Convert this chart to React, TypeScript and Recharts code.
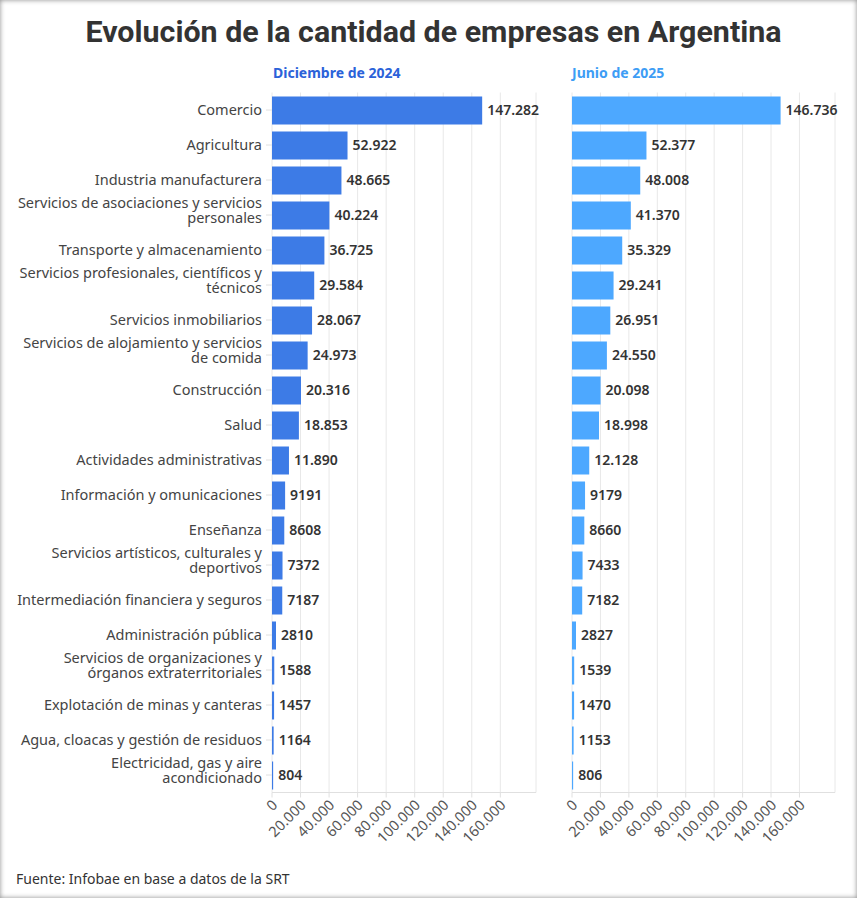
import React from "react";
import { BarChart, Bar, XAxis, YAxis, CartesianGrid, LabelList } from "recharts";

const categories = [
  "Comercio",
  "Agricultura",
  "Industria manufacturera",
  "Servicios de asociaciones y servicios personales",
  "Transporte y almacenamiento",
  "Servicios profesionales, científicos y técnicos",
  "Servicios inmobiliarios",
  "Servicios de alojamiento y servicios de comida",
  "Construcción",
  "Salud",
  "Actividades administrativas",
  "Información y omunicaciones",
  "Enseñanza",
  "Servicios artísticos, culturales y deportivos",
  "Intermediación financiera y seguros",
  "Administración pública",
  "Servicios de organizaciones y órganos extraterritoriales",
  "Explotación de minas y canteras",
  "Agua, cloacas y gestión de residuos",
  "Electricidad, gas y aire acondicionado",
];

const dic2024 = [147282, 52922, 48665, 40224, 36725, 29584, 28067, 24973, 20316, 18853, 11890, 9191, 8608, 7372, 7187, 2810, 1588, 1457, 1164, 804];
const jun2025 = [146736, 52377, 48008, 41370, 35329, 29241, 26951, 24550, 20098, 18998, 12128, 9179, 8660, 7433, 7182, 2827, 1539, 1470, 1153, 806];

const xTicks = [0, 20000, 40000, 60000, 80000, 100000, 120000, 140000, 160000];

const seriesTitles = ["Diciembre de 2024", "Junio de 2025"];

const data = categories.map((c, i) => ({ name: c, dic: dic2024[i], jun: jun2025[i] }));

const FONT = "'Noto Sans', sans-serif";
const CAT_FS = 14.5;
const WRAP_W = 249;
const LH = 14.5;

const groupDots = (v: number) => String(v).replace(/\B(?=(\d{3})+(?!\d))/g, ".");
const fmtValue = (v: any) => {
  const n = Number(v);
  return n >= 10000 ? groupDots(n) : String(n);
};
const fmtTick = (v: any) => groupDots(Number(v));

let ctx: CanvasRenderingContext2D | null = null;
const measure = (s: string) => {
  if (!ctx) {
    const c = document.createElement("canvas");
    ctx = c.getContext("2d");
  }
  if (!ctx) return s.length * 7;
  ctx.font = `${CAT_FS}px 'Noto Sans'`;
  return ctx.measureText(s).width;
};

const wrap = (s: string) => {
  const words = s.split(" ");
  const lines: string[] = [];
  let cur = "";
  for (const w of words) {
    const t = cur ? cur + " " + w : w;
    if (cur && measure(t) > WRAP_W) {
      lines.push(cur);
      cur = w;
    } else {
      cur = t;
    }
  }
  if (cur) lines.push(cur);
  return lines;
};

const CatTick = (props: any) => {
  const { x, y, payload } = props;
  const lines = wrap(String(payload.value));
  const n = lines.length;
  const shift = (n - 1) * (LH / 2 + 4.75);
  return (
    <text textAnchor="end" fontSize={CAT_FS} fill="#444" fontFamily={FONT}>
      {lines.map((l, i) => (
        <tspan key={i} x={x} y={y + i * LH - shift + 5}>
          {l}
        </tspan>
      ))}
    </text>
  );
};

const XTick = (props: any) => {
  const { x, y, payload } = props;
  return (
    <g transform={`translate(${x},${y})`}>
      <text
        x={0}
        y={0}
        dy={9}
        textAnchor="end"
        transform="rotate(-45)"
        fontSize={14.5}
        fill="#555"
        fontFamily={FONT}
      >
        {fmtTick(payload.value)}
      </text>
    </g>
  );
};

const DOMAIN: [number, number] = [0, 185000];
const PLOT_TOP = 92.5;
const PLOT_H = 700;
const XAXIS_H = 70;

export default function App() {
  const chartH = PLOT_TOP + PLOT_H + XAXIS_H;
  return (
    <div
      style={{
        position: "absolute",
        left: 0,
        top: 0,
        width: 857,
        height: 898,
        background: "#fff",
        boxShadow: "inset 0 0 5px rgba(0,0,0,0.45)",
        overflow: "hidden",
        fontFamily: FONT,
      }}
    >
      <div
        style={{
          position: "absolute",
          left: 5,
          top: 14,
          width: 857,
          textAlign: "center",
          fontFamily: "Roboto, sans-serif",
          fontWeight: 700,
          fontSize: 30.4,
          color: "#333",
        }}
      >
        Evolución de la cantidad de empresas en Argentina
      </div>
      <div
        style={{
          position: "absolute",
          left: 273,
          top: 63,
          fontWeight: 700,
          fontSize: 14,
          color: "#2b62d9",
        }}
      >
        {seriesTitles[0]}
      </div>
      <div
        style={{
          position: "absolute",
          left: 572,
          top: 63,
          fontWeight: 700,
          fontSize: 14,
          color: "#3d9df5",
        }}
      >
        {seriesTitles[1]}
      </div>

      <div style={{ position: "absolute", left: 0, top: 0 }}>
        <BarChart
          width={540}
          height={chartH}
          data={data}
          layout="vertical"
          margin={{ top: PLOT_TOP, right: 4, left: 0, bottom: 0 }}
          barCategoryGap="20%"
        >
          <CartesianGrid horizontal={false} stroke="#e8e8e8" />
          <XAxis
            type="number"
            domain={DOMAIN}
            ticks={xTicks}
            interval={0}
            height={XAXIS_H}
            tick={<XTick />}
            axisLine={{ stroke: "#e0e0e0" }}
            tickLine={{ stroke: "#e0e0e0" }}
            tickSize={5}
          />
          <YAxis
            type="category"
            dataKey="name"
            width={272}
            axisLine={false}
            tickLine={{ stroke: "#e0e0e0" }}
            tickSize={6}
            tickMargin={4}
            interval={0}
            tick={<CatTick />}
          />
          <Bar dataKey="dic" fill="#3d7be6" barSize={28} isAnimationActive={false}>
            <LabelList
              dataKey="dic"
              position="right"
              offset={5}
              formatter={fmtValue}
              style={{ fontSize: 14, fontWeight: 600, fill: "#333", fontFamily: FONT }}
            />
          </Bar>
        </BarChart>
      </div>

      <div style={{ position: "absolute", left: 552, top: 0 }}>
        <BarChart
          width={288}
          height={chartH}
          data={data}
          layout="vertical"
          margin={{ top: PLOT_TOP, right: 5, left: 20, bottom: 0 }}
          barCategoryGap="20%"
        >
          <CartesianGrid horizontal={false} stroke="#e8e8e8" />
          <XAxis
            type="number"
            domain={DOMAIN}
            ticks={xTicks}
            interval={0}
            height={XAXIS_H}
            tick={<XTick />}
            axisLine={{ stroke: "#e0e0e0" }}
            tickLine={{ stroke: "#e0e0e0" }}
            tickSize={5}
          />
          <YAxis type="category" dataKey="name" hide width={0} />
          <Bar dataKey="jun" fill="#4da8ff" barSize={28} isAnimationActive={false}>
            <LabelList
              dataKey="jun"
              position="right"
              offset={5}
              formatter={fmtValue}
              style={{ fontSize: 14, fontWeight: 600, fill: "#333", fontFamily: FONT }}
            />
          </Bar>
        </BarChart>
      </div>

      <div
        style={{
          position: "absolute",
          left: 16,
          top: 869,
          fontSize: 14,
          color: "#333",
        }}
      >
        Fuente: Infobae en base a datos de la SRT
      </div>
    </div>
  );
}
